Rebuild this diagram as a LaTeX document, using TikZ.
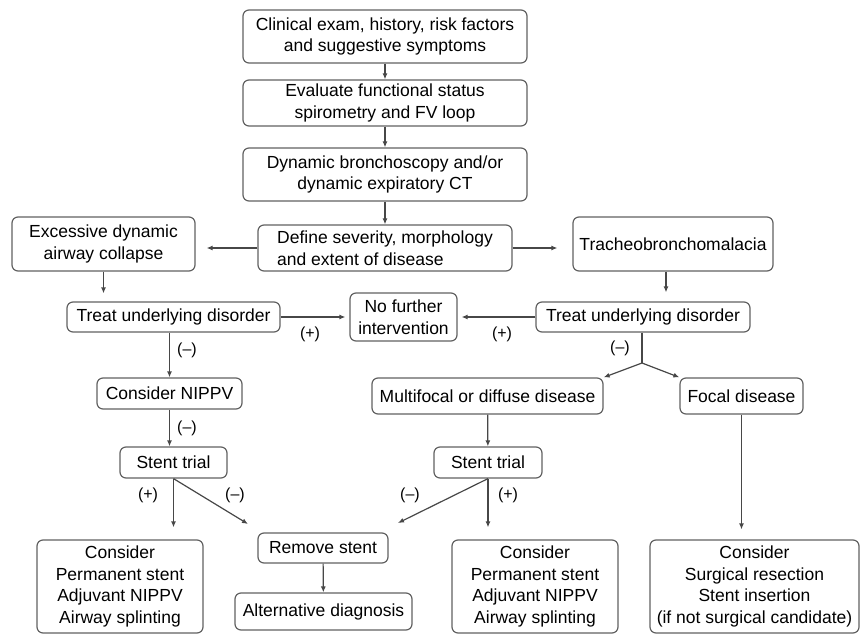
\documentclass[tikz,border=0pt]{standalone}
\usepackage{fontspec}
\setmainfont{Liberation Sans}
\usetikzlibrary{arrows.meta}

\begin{document}
\begin{tikzpicture}[x=1pt, y=-1pt,
    every node/.style={inner sep=2pt},
    box/.style={draw=black!62, line width=1.2pt, rounded corners=6pt, align=center,
        text=black, inner sep=0pt, font=\fontsize{17.5}{21.5}\selectfont},
    sign/.style={text=black, font=\fontsize{16}{19}\selectfont},
    arr/.style={draw=black!72, line width=1.2pt, -{Latex[length=6pt,width=5pt]}},
    link/.style={draw=black!72, line width=1.2pt}]
    \useasboundingbox (0,0) rectangle (861,636);

    % nodes
    \node[box, minimum width=284pt, minimum height=53pt] (clin) at (385,36.5)
        {Clinical exam, history, risk factors\\and suggestive symptoms};
    \node[box, minimum width=284pt, minimum height=46pt] (eval) at (385,103)
        {Evaluate functional status\\spirometry and FV loop};
    \node[box, minimum width=284pt, minimum height=53pt] (dyn) at (385,174.5)
        {Dynamic bronchoscopy and/or\\dynamic expiratory CT};
    \node[box, minimum width=254pt, minimum height=46pt, align=left] (def) at (385,248)
        {Define severity, morphology\\and extent of disease};

    \node[box, minimum width=183pt, minimum height=54pt] (edac) at (103.5,244)
        {Excessive dynamic\\airway collapse};
    \node[box, minimum width=200pt, minimum height=54pt] (tbm) at (673,244)
        {Tracheobronchomalacia};

    \node[box, minimum width=213pt, minimum height=30pt] (treatL) at (173.5,317)
        {Treat underlying disorder};
    \node[box, minimum width=107pt, minimum height=48pt] (nofur) at (403.5,317)
        {No further\\intervention};
    \node[box, minimum width=214pt, minimum height=30pt] (treatR) at (643,317)
        {Treat underlying disorder};

    \node[box, minimum width=145pt, minimum height=31pt] (nippv) at (169.5,393.5)
        {Consider NIPPV};
    \node[box, minimum width=231pt, minimum height=36pt] (multi) at (487.5,396)
        {Multifocal or diffuse disease};
    \node[box, minimum width=123pt, minimum height=36pt] (focal) at (741.5,396)
        {Focal disease};

    \node[box, minimum width=107pt, minimum height=31pt] (stentL) at (173.5,462.5)
        {Stent trial};
    \node[box, minimum width=108pt, minimum height=31pt] (stentR) at (488,462.5)
        {Stent trial};

    \node[box, minimum width=166pt, minimum height=93pt] (consL) at (120,586.5)
        {Consider\\Permanent stent\\Adjuvant NIPPV\\Airway splinting};
    \node[box, minimum width=130pt, minimum height=30pt] (remove) at (323,548)
        {Remove stent};
    \node[box, minimum width=177pt, minimum height=37pt] (alt) at (323.5,611.5)
        {Alternative diagnosis};
    \node[box, minimum width=166pt, minimum height=93pt] (consR) at (535,586.5)
        {Consider\\Permanent stent\\Adjuvant NIPPV\\Airway splinting};
    \node[box, minimum width=209pt, minimum height=93pt] (consF) at (754.5,586.5)
        {Consider\\Surgical resection\\Stent insertion\\(if not surgical candidate)};

    \coordinate (split) at (642,363);
    \coordinate (rmL) at (248,524);
    \coordinate (rmR) at (398,523);

    % edges down the middle
    \draw[arr] (clin) -- (eval);
    \draw[arr] (eval) -- (dyn);
    \draw[arr] (dyn) -- (def);

    % edges to the two findings
    \draw[arr, shorten >=11pt] (def.west) -- (def.west -| edac.east);
    \draw[arr, shorten >=15pt] (def.east) -- (def.east -| tbm.west);
    \draw[arr, shorten >=8pt] (edac.south) -- (edac.south |- treatL.north);
    \draw[arr, shorten >=9pt] ([xshift=-7pt]tbm.south) -- ([xshift=-7pt]tbm.south |- treatR.north);

    % edges to no further intervention
    \draw[arr, shorten >=4pt] (treatL) -- (nofur);
    \draw[arr, shorten >=4pt] (treatR) -- (nofur);

    % left branch
    \draw[arr] (nippv.north |- treatL.south) -- (nippv.north);
    \draw[arr] (nippv.south) -- (nippv.south |- stentL.north);
    \draw[arr, shorten >=12pt] (stentL) -- (stentL.south |- consL.north);
    \draw[arr] (stentL.south) -- (rmL);

    % right branch
    \draw[link] ([xshift=-1pt]treatR.south) -- (split);
    \draw[arr] (split) -- (multi.north east);
    \draw[arr] (split) -- (focal.north west);
    \draw[arr] (multi) -- (stentR);
    \draw[arr, shorten >=12pt] (stentR) -- (stentR.south |- consR.north);
    \draw[arr] (stentR.south) -- (rmR);
    \draw[arr, shorten >=10pt] (focal) -- (focal.south |- consF.north);

    % remove stent
    \draw[arr] (remove) -- (alt);

    % signs
    \node[sign] (p1) at (310,334) {(+)};
    \node[sign] (p2) at (502,334) {(+)};
    \node[sign] (m1) at (187,350) {(\textendash)};
    \node[sign] (m2) at (620,348) {(\textendash)};
    \node[sign] (m3) at (187,428) {(\textendash)};
    \node[sign] (p3) at (148,495) {(+)};
    \node[sign] (m4) at (235,495) {(\textendash)};
    \node[sign] (m5) at (410,495) {(\textendash)};
    \node[sign] (p4) at (508,495) {(+)};
\end{tikzpicture}
\end{document}
